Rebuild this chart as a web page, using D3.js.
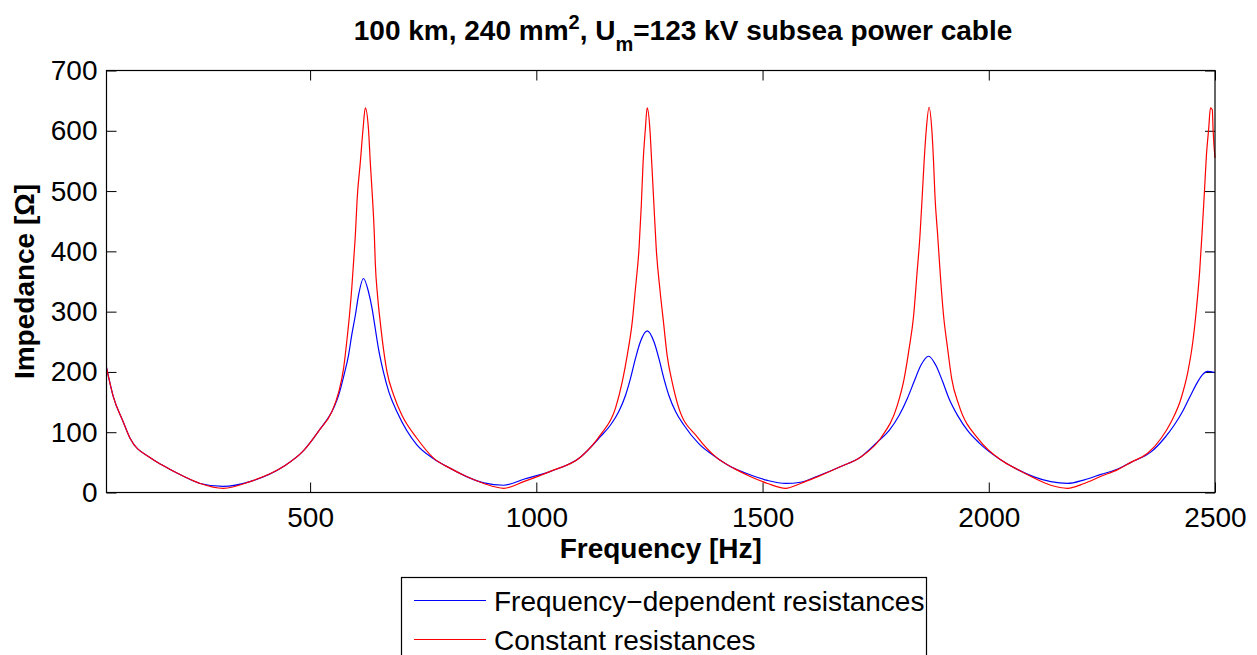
<!DOCTYPE html>
<html>
<head>
<meta charset="utf-8">
<script src="https://cdn.jsdelivr.net/npm/d3@7"></script>
<style>
  body { margin: 0; background: #fff; }
  svg { display: block; font-family: "Liberation Sans", Arial, Helvetica, sans-serif; }
</style>
</head>
<body>
<div id="chart"></div>
<script>
// frequency [Hz] and impedance [ohm]
const freqConst = [50, 65, 87, 102, 146, 172, 220, 257, 308, 367, 441, 485, 520, 548, 563, 574, 581, 587, 592, 596, 600, 604, 611, 617, 622, 629, 633, 638, 642, 644, 649, 655, 662, 670, 685, 703, 736,
  773, 810, 847, 884, 928, 972, 1031, 1098, 1142, 1175, 1190, 1201, 1212, 1219, 1227, 1232, 1236, 1241, 1245, 1251, 1255, 1260, 1265, 1273, 1281, 1289, 1300, 1315, 1356,
  1400, 1437, 1474, 1511, 1551, 1584, 1621, 1673, 1717, 1761, 1798, 1813, 1824, 1834, 1841, 1848, 1853, 1857, 1862, 1868, 1874, 1878, 1881, 1887, 1893, 1900, 1909, 1918, 1934, 1979,
  2027, 2064, 2100, 2137, 2174, 2211, 2248, 2285, 2314, 2351, 2381, 2403, 2425, 2440, 2451, 2459, 2466, 2472, 2477, 2481, 2486, 2490, 2494, 2496, 2500];
const zConst = [207, 159, 117, 90, 58, 46, 27, 15, 7, 18, 43, 69, 103, 134, 166, 206, 250, 294, 338, 382, 427, 487, 548, 603, 638, 603, 548, 487, 427, 382, 327, 283, 239, 200, 161, 128, 90,
  57, 40, 26, 15, 7, 18, 35, 59, 96, 140, 184, 228, 283, 338, 405, 476, 548, 603, 638, 603, 548, 476, 405, 338, 283, 228, 184, 140, 92,
  57, 40, 26, 15, 7, 15, 26, 43, 59, 90, 145, 189, 239, 294, 360, 427, 493, 548, 603, 639, 603, 548, 493, 427, 360, 294, 239, 189, 145, 87,
  54, 38, 24, 12, 7, 15, 27, 38, 50, 65, 90, 117, 156, 200, 250, 305, 366, 438, 504, 559, 603, 638, 635, 598, 555];

const freqFd = [50, 65, 87, 102, 146, 172, 220, 257, 308, 367, 441, 485, 520, 552, 563, 575, 585, 592, 600, 607, 618, 629, 637, 644, 651, 662, 674, 692, 736,
  773, 810, 847, 884, 928, 972, 1031, 1098, 1142, 1164, 1182, 1197, 1208, 1219, 1230, 1245, 1260, 1271, 1282, 1293, 1308, 1326, 1359,
  1400, 1437, 1474, 1511, 1551, 1584, 1621, 1673, 1717, 1754, 1780, 1802, 1820, 1835, 1850, 1867, 1883, 1898, 1912, 1931, 1953, 1979,
  2027, 2064, 2100, 2137, 2174, 2211, 2248, 2285, 2314, 2358, 2388, 2410, 2428, 2446, 2462, 2473, 2483, 2500];
const zFd = [207, 159, 117, 90, 58, 46, 27, 15, 10, 18, 43, 69, 103, 140, 161, 195, 228, 261, 294, 327, 355, 333, 305, 272, 239, 200, 167, 134, 79,
  56, 40, 26, 16, 12, 22, 35, 59, 93, 112, 134, 161, 189, 222, 250, 268, 250, 222, 189, 161, 134, 112, 81,
  57, 40, 29, 20, 15, 17, 27, 43, 59, 84, 103, 128, 156, 184, 211, 226, 211, 184, 156, 128, 103, 82,
  54, 38, 26, 18, 15, 21, 30, 39, 50, 67, 90, 112, 134, 161, 184, 196, 201, 199];

const xTicks = [500, 1000, 1500, 2000, 2500];
const yTicks = [0, 100, 200, 300, 400, 500, 600, 700];
const seriesNames = ['Frequency\u2212dependent resistances', 'Constant resistances'];
const colors = ['#0000ff', '#ff0000'];

const width = 1257;
const height = 655;
const plot = { left: 106.5, right: 1215, top: 70.5, bottom: 492.5 };

const svg = d3.select('#chart')
  .append('svg')
  .attr('width', width)
  .attr('height', height);

const xScale = d3.scaleLinear().domain([50, 2500]).range([plot.left, plot.right]);
const yScale = d3.scaleLinear().domain([0, 700]).range([plot.bottom, plot.top]);

// axes, ticks pointing inward on all four sides
const axisStyle = sel => {
  sel.select('.domain').remove();
  sel.selectAll('line').attr('stroke', '#000');
  sel.selectAll('text').attr('font-size', '28px').attr('fill', '#000')
    .attr('font-family', '"Liberation Sans", Arial, sans-serif');
};

svg.append('g')
  .attr('transform', `translate(0,${plot.bottom})`)
  .call(d3.axisBottom(xScale).tickValues(xTicks).tickSize(-10).tickPadding(15).tickFormat(d3.format('d')))
  .call(axisStyle);
svg.append('g')
  .attr('transform', `translate(0,${plot.top})`)
  .call(d3.axisTop(xScale).tickValues(xTicks).tickSize(-10).tickFormat(''))
  .call(axisStyle);
svg.append('g')
  .attr('transform', `translate(${plot.left},0)`)
  .call(d3.axisLeft(yScale).tickValues(yTicks).tickSize(-10).tickPadding(9))
  .call(axisStyle);
svg.append('g')
  .attr('transform', `translate(${plot.right},0)`)
  .call(d3.axisRight(yScale).tickValues(yTicks).tickSize(-10).tickFormat(''))
  .call(axisStyle);

const line = d3.line()
  .x(d => xScale(d[0]))
  .y(d => yScale(d[1]))
  .curve(d3.curveMonotoneX);

const series = [
  d3.zip(freqFd, zFd),
  d3.zip(freqConst, zConst)
];

series.forEach((s, i) => {
  svg.append('path')
    .datum(s)
    .attr('d', line)
    .attr('fill', 'none')
    .attr('stroke', colors[i])
    .attr('stroke-width', 1.2);
});

svg.append('rect')
  .attr('x', plot.left)
  .attr('y', plot.top)
  .attr('width', plot.right - plot.left)
  .attr('height', plot.bottom - plot.top)
  .attr('fill', 'none')
  .attr('stroke', '#000')
  .attr('stroke-width', 1.2);

// title
const title = svg.append('text')
  .attr('x', 683)
  .attr('y', 40)
  .attr('text-anchor', 'middle')
  .attr('font-size', '28px')
  .attr('font-weight', 'bold');
title.append('tspan').text('100 km, 240 mm');
title.append('tspan').attr('dy', -11).attr('font-size', '20px').text('2');
title.append('tspan').attr('dy', 11).text(', U');
title.append('tspan').attr('dy', 11).attr('font-size', '20px').text('m');
title.append('tspan').attr('dy', -11).text('=123 kV subsea power cable');

svg.append('text')
  .attr('x', (plot.left + plot.right) / 2)
  .attr('y', 558)
  .attr('text-anchor', 'middle')
  .attr('font-size', '28px')
  .attr('font-weight', 'bold')
  .text('Frequency [Hz]');

svg.append('text')
  .attr('transform', `translate(34,${(plot.top + plot.bottom) / 2}) rotate(-90)`)
  .attr('text-anchor', 'middle')
  .attr('font-size', '28px')
  .attr('font-weight', 'bold')
  .text('Impedance [\u03a9]');

// legend
const legend = svg.append('g');
legend.append('rect')
  .attr('x', 401.5)
  .attr('y', 577.5)
  .attr('width', 525)
  .attr('height', 100)
  .attr('fill', '#fff')
  .attr('stroke', '#000')
  .attr('stroke-width', 1.2);
seriesNames.forEach((name, i) => {
  const ly = 600.5 + i * 39;
  legend.append('line')
    .attr('x1', 414).attr('x2', 486)
    .attr('y1', ly).attr('y2', ly)
    .attr('stroke', colors[i])
    .attr('stroke-width', 1.2);
  legend.append('text')
    .attr('x', 494)
    .attr('y', ly + 10)
    .attr('font-size', '28px')
    .text(name);
});
</script>
</body>
</html>
